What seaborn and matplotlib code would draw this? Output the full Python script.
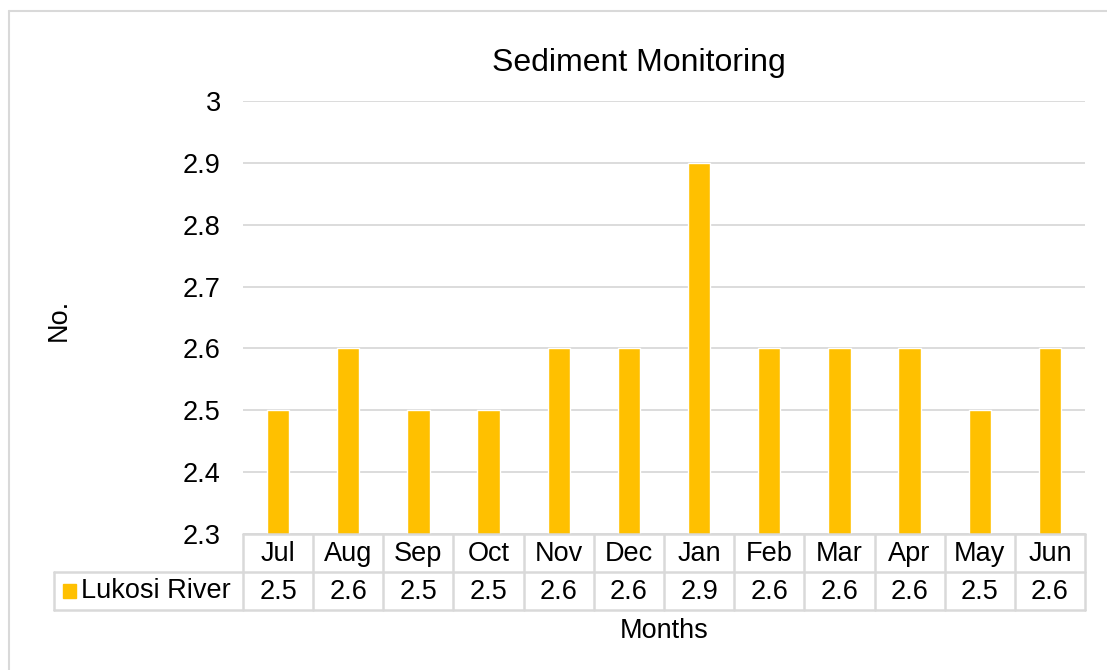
import matplotlib
matplotlib.use("Agg")
import matplotlib.pyplot as plt
import seaborn as sns
import pandas as pd
from matplotlib.lines import Line2D
from matplotlib.patches import Rectangle
import matplotlib.transforms as mtransforms

months = ["Jul", "Aug", "Sep", "Oct", "Nov", "Dec", "Jan", "Feb", "Mar", "Apr", "May", "Jun"]
values = [2.5, 2.6, 2.5, 2.5, 2.6, 2.6, 2.9, 2.6, 2.6, 2.6, 2.5, 2.6]
series_name = "Lukosi River"
yticks = [2.3, 2.4, 2.5, 2.6, 2.7, 2.8, 2.9, 3.0]
ytick_labels = ["2.3", "2.4", "2.5", "2.6", "2.7", "2.8", "2.9", "3"]

W, H = 1107, 670
sns.set_theme(style="white")
plt.rcParams["font.family"] = ["Liberation Sans", "DejaVu Sans"]

FS = 19.5
fig = plt.figure(figsize=(W / 100, H / 100), dpi=100)
fig.patch.set_facecolor("white")

def fx(px):
    return px / W

def fy(py):
    return 1 - py / H

L, R, T, B = 243, 1085, 101, 534
ax = fig.add_axes([fx(L), fy(B), fx(R) - fx(L), fy(T) - fy(B)])

df = pd.DataFrame({"Month": months, "Value": values})
bar_color = "#FFC000"
sns.barplot(data=df, x="Month", y="Value", color=bar_color, width=0.32,
            saturation=1, ax=ax, zorder=3)
ax.set_xlim(-0.5, len(months) - 0.5)
ax.set_ylim(2.3, 3.0)
ax.set_yticks(yticks)
ax.set_yticklabels(ytick_labels, fontsize=FS, color="black")
ax.tick_params(axis="y", length=0, pad=16)
ax.set_xticks([])
ax.set_xlabel("")
ax.set_ylabel("")
for s in ax.spines.values():
    s.set_visible(False)
ax.grid(axis="y", color="#D9D9D9", linewidth=1.3, zorder=0)
ax.set_axisbelow(True)

# Title and axis titles
fig.text(fx(639), fy(63), "Sediment Monitoring", ha="center", va="center", fontsize=23, color="black")
fig.text(fx(59), fy(320), "No.", ha="center", va="center", rotation=90, fontsize=FS, color="black")
fig.text(fx(664), fy(631), "Months", ha="center", va="center", fontsize=FS, color="black")

# Data table
grid_c = "#D9D9D9"
lw = 1.8
trans = mtransforms.blended_transform_factory(ax.transData, fig.transFigure)
row1_top, row1_bot, row2_bot = 534, 572, 610
for py, x0 in [(row1_top, L), (row1_bot, 54), (row2_bot, 54)]:
    fig.add_artist(Line2D([fx(x0), fx(R)], [fy(py), fy(py)], color=grid_c, lw=lw))
for i in range(len(months) + 1):
    xb = i - 0.5
    fig.add_artist(Line2D([xb, xb], [fy(row1_top), fy(row2_bot)], color=grid_c, lw=lw,
                          transform=trans))
fig.add_artist(Line2D([fx(54), fx(54)], [fy(row1_bot), fy(row2_bot)], color=grid_c, lw=lw))

for i, (m, v) in enumerate(zip(months, values)):
    fig.text(i, fy((row1_top + row1_bot) / 2 + 1), m, ha="center", va="center",
             fontsize=FS, color="black", transform=trans)
    fig.text(i, fy((row1_bot + row2_bot) / 2 + 1), f"{v:g}", ha="center", va="center",
             fontsize=FS, color="black", transform=trans)

# legend key + series name
fig.add_artist(Rectangle((fx(63), fy(598)), fx(13), fy(584) - fy(598),
                         color=bar_color, transform=fig.transFigure))
fig.text(fx(81), fy(591), series_name, ha="left", va="center", fontsize=FS, color="black")

# outer chart border (top and left visible)
fig.add_artist(Line2D([fx(9), 1.0], [fy(11), fy(11)], color="#D9D9D9", lw=1.5))
fig.add_artist(Line2D([fx(9), fx(9)], [fy(11), 0.0], color="#D9D9D9", lw=1.5))

fig.savefig("out.png", dpi=100, facecolor="white")
